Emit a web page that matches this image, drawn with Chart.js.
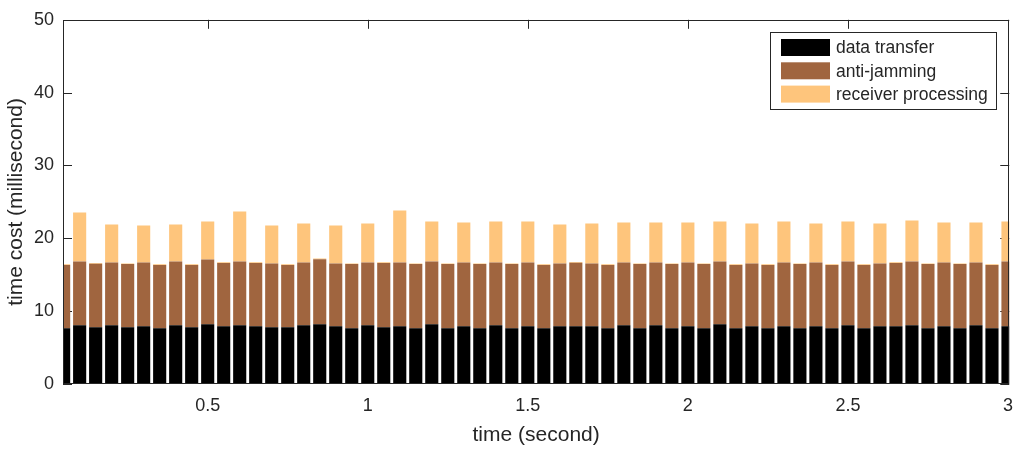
<!DOCTYPE html>
<html>
<head>
<meta charset="utf-8">
<script src="https://cdn.jsdelivr.net/npm/chart.js@4.4.1/dist/chart.umd.min.js"></script>
<style>
  html, body { margin: 0; padding: 0; background: #fff; }
  #wrap { width: 1024px; height: 457px; }
</style>
</head>
<body>
<div id="wrap"><canvas id="chart" width="1024" height="457"></canvas></div>
<script>
// ===============================
// DATI
// ===============================
const times = [
  0.05, 0.10, 0.15, 0.20, 0.25, 0.30, 0.35, 0.40, 0.45, 0.50,
  0.55, 0.60, 0.65, 0.70, 0.75, 0.80, 0.85, 0.90, 0.95, 1.00,
  1.05, 1.10, 1.15, 1.20, 1.25, 1.30, 1.35, 1.40, 1.45, 1.50,
  1.55, 1.60, 1.65, 1.70, 1.75, 1.80, 1.85, 1.90, 1.95, 2.00,
  2.05, 2.10, 2.15, 2.20, 2.25, 2.30, 2.35, 2.40, 2.45, 2.50,
  2.55, 2.60, 2.65, 2.70, 2.75, 2.80, 2.85, 2.90, 2.95, 3.00
];

const dataTransfer = [
  7.64, 8.05, 7.78, 8.05, 7.78, 7.92, 7.64, 8.05, 7.78, 8.19,
  7.92, 8.05, 7.92, 7.78, 7.78, 8.05, 8.19, 7.92, 7.64, 8.05,
  7.78, 7.92, 7.64, 8.19, 7.64, 7.92, 7.64, 8.05, 7.64, 7.92,
  7.64, 7.92, 7.92, 7.92, 7.64, 8.05, 7.64, 8.05, 7.64, 7.92,
  7.64, 8.19, 7.64, 7.92, 7.64, 7.92, 7.64, 7.92, 7.64, 8.05,
  7.64, 7.92, 7.92, 8.05, 7.64, 7.92, 7.64, 8.05, 7.64, 7.92
];

const antiJamming = [
  8.69, 8.77, 8.72, 8.64, 8.68, 8.77, 8.69, 8.77, 8.55, 8.90,
  8.68, 8.77, 8.68, 8.77, 8.55, 8.64, 8.95, 8.63, 8.82, 8.64,
  8.82, 8.77, 8.82, 8.63, 8.82, 8.77, 8.82, 8.64, 8.82, 8.77,
  8.69, 8.63, 8.72, 8.63, 8.69, 8.64, 8.82, 8.64, 8.82, 8.77,
  8.82, 8.63, 8.69, 8.63, 8.69, 8.77, 8.82, 8.77, 8.69, 8.77,
  8.69, 8.63, 8.68, 8.77, 8.82, 8.77, 8.82, 8.64, 8.69, 8.90
];

const receiverProcessing = [
  0.10, 6.72, 0.10, 5.21, 0.10, 5.08, 0.10, 5.08, 0.10, 5.22,
  0.10, 6.86, 0.10, 5.22, 0.10, 5.36, 0.10, 5.22, 0.10, 5.36,
  0.10, 7.12, 0.10, 5.49, 0.10, 5.49, 0.10, 5.62, 0.10, 5.62,
  0.10, 5.35, 0.10, 5.50, 0.10, 5.49, 0.10, 5.49, 0.10, 5.49,
  0.10, 5.49, 0.10, 5.50, 0.10, 5.62, 0.10, 5.36, 0.10, 5.49,
  0.10, 5.50, 0.10, 5.63, 0.10, 5.49, 0.10, 5.49, 0.10, 5.49
];

const xTicks = [0.5, 1, 1.5, 2, 2.5, 3];
const yTicks = [0, 10, 20, 30, 40, 50];

// ===============================
// STILE
// ===============================
const FONT = "'Liberation Sans', Arial, Helvetica, sans-serif";
const AXIS_COLOR = "#262626";

const toPoints = values => values.map((v, i) => ({ x: times[i], y: v }));

// tacche interne (stile MATLAB) sotto le barre
const innerTicks = {
  id: "innerTicks",
  beforeDatasetsDraw(chart) {
    const { ctx, chartArea: a, scales: { x, y } } = chart;
    const len = 9;
    ctx.save();
    ctx.strokeStyle = AXIS_COLOR;
    ctx.lineWidth = 1;
    ctx.beginPath();
    yTicks.forEach(v => {
      const py = Math.round(y.getPixelForValue(v)) + 0.5;
      ctx.moveTo(a.left, py); ctx.lineTo(a.left + len, py);
      ctx.moveTo(a.right, py); ctx.lineTo(a.right - len, py);
    });
    xTicks.forEach(v => {
      const px = Math.round(x.getPixelForValue(v)) + 0.5;
      ctx.moveTo(px, a.top); ctx.lineTo(px, a.top + len);
      ctx.moveTo(px, a.bottom); ctx.lineTo(px, a.bottom - len);
    });
    ctx.stroke();
    ctx.restore();
  },
  afterDatasetsDraw(chart) {
    const { ctx, chartArea: a } = chart;
    ctx.save();
    ctx.strokeStyle = AXIS_COLOR;
    ctx.lineWidth = 1;
    ctx.strokeRect(Math.round(a.left) + 0.5, Math.round(a.top) + 0.5,
      Math.round(a.right - a.left) - 1, Math.round(a.bottom - a.top) - 1);
    ctx.restore();
  }
};

// legenda riquadrata dentro l'area del grafico
const boxLegend = {
  id: "boxLegend",
  afterDraw(chart) {
    const { ctx } = chart;
    const bx = 770.5, by = 32.5, bw = 226, bh = 77;
    ctx.save();
    ctx.fillStyle = "#fff";
    ctx.fillRect(bx, by, bw, bh);
    ctx.strokeStyle = AXIS_COLOR;
    ctx.lineWidth = 1;
    ctx.strokeRect(bx, by, bw, bh);
    ctx.font = "17.5px " + FONT;
    ctx.textBaseline = "middle";
    ctx.textAlign = "left";
    chart.data.datasets.forEach((ds, i) => {
      const cy = 47.5 + i * 23.3;
      ctx.fillStyle = ds.backgroundColor;
      ctx.fillRect(781, cy - 8.5, 49, 17);
      ctx.fillStyle = AXIS_COLOR;
      ctx.fillText(ds.label, 836, cy + 1);
    });
    ctx.restore();
  }
};

new Chart(document.getElementById("chart"), {
  type: "bar",
  data: {
    datasets: [
      { label: "data transfer", data: toPoints(dataTransfer), backgroundColor: "#000000" },
      { label: "anti-jamming", data: toPoints(antiJamming), backgroundColor: "#a0653f" },
      { label: "receiver processing", data: toPoints(receiverProcessing), backgroundColor: "#fec57c" }
    ]
  },
  options: {
    responsive: false,
    animation: false,
    layout: { padding: { left: 0, top: 15, right: 11, bottom: 0 } },
    datasets: { bar: { categoryPercentage: 1, barPercentage: 0.82, borderWidth: 0 } },
    plugins: { legend: { display: false }, tooltip: { enabled: false } },
    scales: {
      x: {
        type: "linear",
        stacked: true,
        offset: false,
        min: 0.048,
        max: 3.004,
        grid: { display: false, drawTicks: false },
        border: { display: false },
        afterBuildTicks: s => { s.ticks = xTicks.map(v => ({ value: v })); },
        afterFit: s => { s.height = 73; },
        ticks: {
          callback: v => String(v),
          color: AXIS_COLOR,
          padding: 11,
          maxRotation: 0,
          autoSkip: false,
          font: { family: FONT, size: 18 }
        },
        title: {
          display: true,
          text: "time (second)",
          color: AXIS_COLOR,
          font: { family: FONT, size: 21 },
          padding: { top: 0, bottom: 9 }
        }
      },
      y: {
        stacked: true,
        min: 0,
        max: 50,
        grid: { display: false, drawTicks: false },
        border: { display: false },
        afterBuildTicks: s => { s.ticks = yTicks.map(v => ({ value: v })); },
        afterFit: s => { s.width = 63; },
        ticks: {
          callback: v => String(v),
          color: AXIS_COLOR,
          padding: 9,
          font: { family: FONT, size: 18 }
        },
        title: {
          display: true,
          text: "time cost (millisecond)",
          color: AXIS_COLOR,
          font: { family: FONT, size: 21 },
          padding: { top: 4, bottom: 0 }
        }
      }
    }
  },
  plugins: [innerTicks, boxLegend]
});
</script>
</body>
</html>
